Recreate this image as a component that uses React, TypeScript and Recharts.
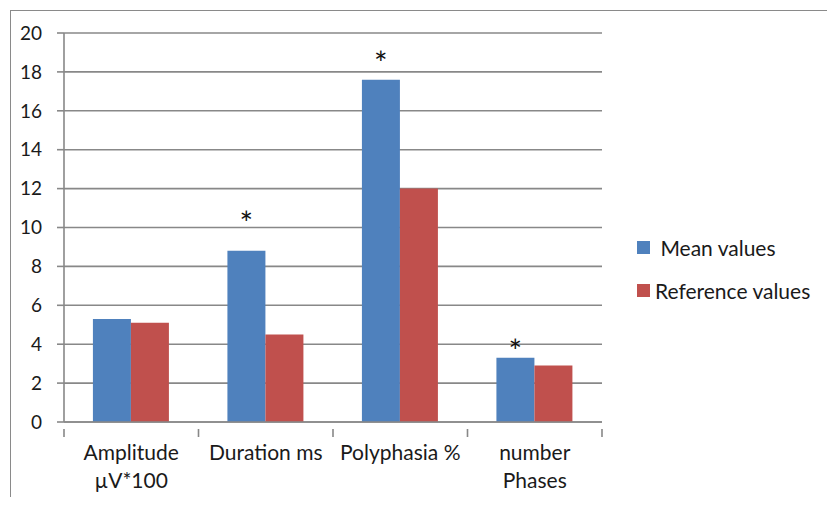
import { BarChart, Bar, XAxis, YAxis, CartesianGrid, LabelList } from "recharts";

const categories = ["Amplitude\nµV*100", "Duration ms", "Polyphasia %", "number\nPhases"];
const meanValues = [5.3, 8.8, 17.6, 3.3];
const referenceValues = [5.1, 4.5, 12.0, 2.9];
// height of the significance asterisk, in axis units (null = none)
const starLevels: (number | null)[] = [null, 10.5, 18.7, 3.9];
const yTicks = [0, 2, 4, 6, 8, 10, 12, 14, 16, 18, 20];

const data = categories.map((name, i) => ({
  name,
  mean: meanValues[i],
  reference: referenceValues[i],
}));

const FONT = "Lato, 'Open Sans', sans-serif";
const GRID = "#888888";
const BLUE = "#4F81BD";
const RED = "#C0504D";

const W = 835;
const H = 505;
const MARGIN = { top: 33, right: 233, bottom: 82, left: 0 };
const Y_W = 64;
const BAND = (W - MARGIN.left - MARGIN.right - Y_W) / categories.length;

function CategoryTick(props: any) {
  const { x, y, payload, index } = props;
  const half = payload?.offset > 0 ? payload.offset : BAND / 2;
  const lines = String(payload.value).split("\n");
  const last = index === categories.length - 1;
  return (
    <g>
      <line x1={x - half} x2={x - half} y1={y - 1} y2={y + 7} stroke={GRID} strokeWidth={1.6} />
      {last && <line x1={x + half} x2={x + half} y1={y - 1} y2={y + 7} stroke={GRID} strokeWidth={1.6} />}
      <text x={x} y={y + 30} textAnchor="middle" fontSize={21} fontFamily={FONT} fill="#1a1a1a">
        {lines.map((l, i) => (
          <tspan key={i} x={x} dy={i === 0 ? 0 : 28}>
            {l}
          </tspan>
        ))}
      </text>
    </g>
  );
}

function Star(props: any) {
  const { x, y, width, height, value, index } = props;
  const lvl = starLevels[index];
  if (lvl == null || !value) return null;
  const perUnit = height / value;
  const sy = y + height - lvl * perUnit;
  return (
    <text x={x + width / 2} y={sy + 17} textAnchor="middle" fontSize={32} fontFamily={FONT} fill="#111">
      *
    </text>
  );
}

function LegendBox() {
  const items = [
    { label: " Mean values", color: BLUE },
    { label: "Reference values", color: RED },
  ];
  return (
    <div style={{ position: "absolute", left: 637, top: 226, fontFamily: FONT, fontSize: 21, color: "#1a1a1a" }}>
      {items.map((it) => (
        <div key={it.label} style={{ display: "flex", alignItems: "center", height: 43, whiteSpace: "pre" }}>
          <span style={{ display: "inline-block", width: 13, height: 13, background: it.color, marginRight: 5 }} />
          {it.label}
        </div>
      ))}
    </div>
  );
}

export default function App() {
  return (
    <div style={{ position: "relative", width: W, height: H, margin: -8, background: "#fff", overflow: "hidden" }}>
      <div
        style={{
          position: "absolute",
          left: 10,
          top: 10,
          width: 818,
          height: 520,
          border: "1px solid #8a8a8a",
        }}
      />
      <div style={{ position: "absolute", left: 0, top: 0 }}>
        <BarChart width={W} height={H} data={data} margin={MARGIN} barCategoryGap="21.5%" barGap={0}>
          <CartesianGrid horizontal vertical={false} stroke={GRID} strokeWidth={1.6} />
          <YAxis
            width={Y_W}
            domain={[0, 20]}
            ticks={yTicks}
            interval={0}
            tickSize={7}
            tickMargin={15}
            axisLine={{ stroke: GRID, strokeWidth: 1.6 }}
            tickLine={{ stroke: GRID, strokeWidth: 1.6 }}
            tick={{ fontSize: 19, fontFamily: FONT, fill: "#1a1a1a" }}
          />
          <XAxis
            dataKey="name"
            height={1}
            interval={0}
            tickLine={false}
            axisLine={{ stroke: GRID, strokeWidth: 1.6 }}
            tick={<CategoryTick />}
          />
          <Bar dataKey="mean" name="Mean values" fill={BLUE} isAnimationActive={false}>
            <LabelList dataKey="mean" content={<Star />} />
          </Bar>
          <Bar dataKey="reference" name="Reference values" fill={RED} isAnimationActive={false} />
        </BarChart>
      </div>
      <LegendBox />
    </div>
  );
}
